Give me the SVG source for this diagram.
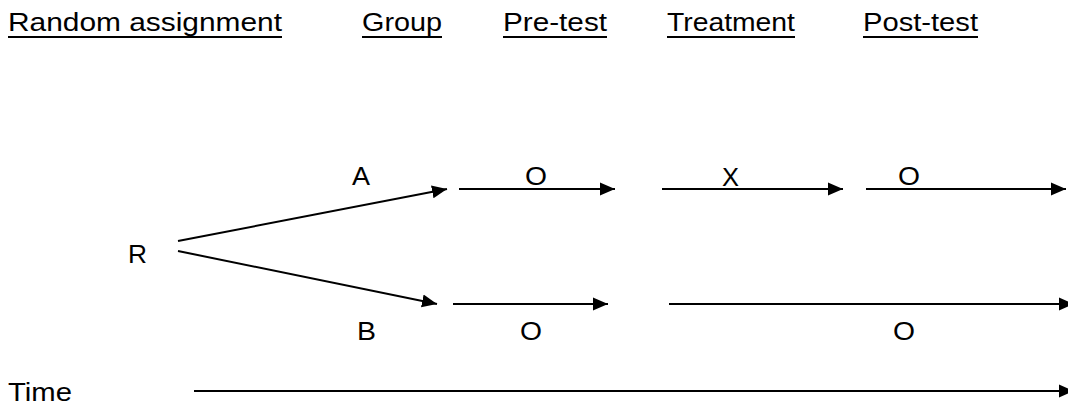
<svg xmlns="http://www.w3.org/2000/svg" width="1068" height="405" viewBox="0 0 1068 405">
<style>
text{font-family:"Liberation Sans",Arial,sans-serif;font-size:25px;fill:#000}
.ul{stroke:#000;stroke-width:2}
.c{stroke:#000;stroke-width:2;fill:none}
</style>
<defs>
<marker id="ah" markerUnits="userSpaceOnUse" markerWidth="16" markerHeight="14" refX="15" refY="7" orient="auto">
<path d="M0,0.5 L15,7 L0,13.5 z" fill="#000"/>
</marker>
</defs>
<rect width="1068" height="405" fill="#fff"/>
<g id="headers">
<text x="8" y="31" textLength="274" lengthAdjust="spacingAndGlyphs">Random assignment</text>
<line class="ul" x1="8" y1="37" x2="282" y2="37"/>
<text x="362" y="31" textLength="80" lengthAdjust="spacingAndGlyphs">Group</text>
<line class="ul" x1="362" y1="37" x2="442" y2="37"/>
<text x="503" y="31" textLength="104" lengthAdjust="spacingAndGlyphs">Pre-test</text>
<line class="ul" x1="503" y1="37" x2="607" y2="37"/>
<text x="667" y="31" textLength="128" lengthAdjust="spacingAndGlyphs">Treatment</text>
<line class="ul" x1="667" y1="37" x2="795" y2="37"/>
<text x="863" y="31" textLength="115" lengthAdjust="spacingAndGlyphs">Post-test</text>
<line class="ul" x1="863" y1="37" x2="978" y2="37"/>
</g>
<g id="node-R"><text x="128" y="263" textLength="19" lengthAdjust="spacingAndGlyphs">R</text></g>
<g id="node-A"><text x="352" y="185" textLength="18" lengthAdjust="spacingAndGlyphs">A</text></g>
<g id="node-B"><text x="357" y="340" textLength="19" lengthAdjust="spacingAndGlyphs">B</text></g>
<g id="label-A-pre"><text x="525" y="185" textLength="22" lengthAdjust="spacingAndGlyphs">O</text></g>
<g id="label-A-treat"><text x="722" y="186" textLength="17" lengthAdjust="spacingAndGlyphs">X</text></g>
<g id="label-A-post"><text x="898" y="185" textLength="22" lengthAdjust="spacingAndGlyphs">O</text></g>
<g id="label-B-pre"><text x="520" y="340" textLength="22" lengthAdjust="spacingAndGlyphs">O</text></g>
<g id="label-B-post"><text x="893" y="340" textLength="22" lengthAdjust="spacingAndGlyphs">O</text></g>
<g id="label-time"><text x="8" y="401" textLength="64" lengthAdjust="spacingAndGlyphs">Time</text></g>
<g id="connectors">
<line class="c" x1="178" y1="241" x2="447" y2="189" marker-end="url(#ah)"/>
<line class="c" x1="178" y1="251" x2="437" y2="304" marker-end="url(#ah)"/>
<line class="c" x1="459" y1="189" x2="615" y2="189" marker-end="url(#ah)"/>
<line class="c" x1="662" y1="189" x2="843" y2="189" marker-end="url(#ah)"/>
<line class="c" x1="866" y1="189" x2="1066" y2="189" marker-end="url(#ah)"/>
<line class="c" x1="453" y1="304" x2="608" y2="304" marker-end="url(#ah)"/>
<line class="c" x1="669" y1="304" x2="1074" y2="304" marker-end="url(#ah)"/>
<line class="c" x1="194" y1="391" x2="1074" y2="391" marker-end="url(#ah)"/>
</g>
</svg>
